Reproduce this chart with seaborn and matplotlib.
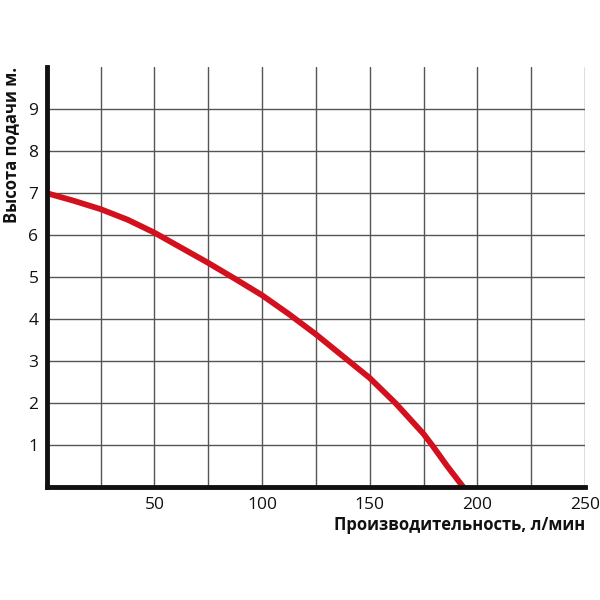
import matplotlib
matplotlib.use("Agg")
import matplotlib.pyplot as plt
import seaborn as sns
import pandas as pd

flow = [0, 12.5, 25, 37.5, 50, 62.5, 75, 87.5, 100, 112.5, 125, 137.5, 150, 162, 175, 179, 186, 193.5]
head = [7.0, 6.82, 6.62, 6.37, 6.06, 5.7, 5.34, 4.96, 4.57, 4.12, 3.64, 3.12, 2.6, 2.0, 1.27, 1.0, 0.5, 0.0]
x_ticks = [50, 100, 150, 200, 250]
y_ticks = [1, 2, 3, 4, 5, 6, 7, 8, 9]
x_label = "Производительность, л/мин"
y_label = "Высота подачи м."

sns.set_theme(style="white")
plt.rcParams['font.family'] = ['Open Sans', 'DejaVu Sans']

df = pd.DataFrame({"flow": flow, "head": head})

fig = plt.figure(figsize=(6, 6), dpi=100)
ax = fig.add_axes([0.078, 0.188, 0.897, 0.70])

for xv in range(25, 251, 25):
    ax.axvline(xv, color="#555555", lw=1.0, zorder=1)
for yv in y_ticks:
    ax.axhline(yv, color="#555555", lw=1.0, zorder=1)

sns.lineplot(data=df, x="flow", y="head", ax=ax, color="#d3101e", lw=4.2,
             solid_capstyle="butt", solid_joinstyle="round", zorder=3)

ax.set_xlim(0, 250)
ax.set_ylim(0, 10)
ax.set_xticks(x_ticks)
ax.set_yticks(y_ticks)
ax.tick_params(axis="both", length=0, labelsize=12.5, colors="#111111")
ax.tick_params(axis="x", pad=7)
ax.tick_params(axis="y", pad=6)

for s in ["top", "right"]:
    ax.spines[s].set_visible(False)
for s in ["left", "bottom"]:
    ax.spines[s].set_color("#111111")
    ax.spines[s].set_linewidth(3.5)
    ax.spines[s].set_zorder(4)

ax.set_xlabel(x_label, fontsize=12, fontweight="bold", loc="right", labelpad=2, color="#111111")
ax.set_ylabel(y_label, fontsize=12, fontweight="bold", loc="top", labelpad=6, color="#111111")

fig.savefig("out.png", dpi=100, facecolor="white")
